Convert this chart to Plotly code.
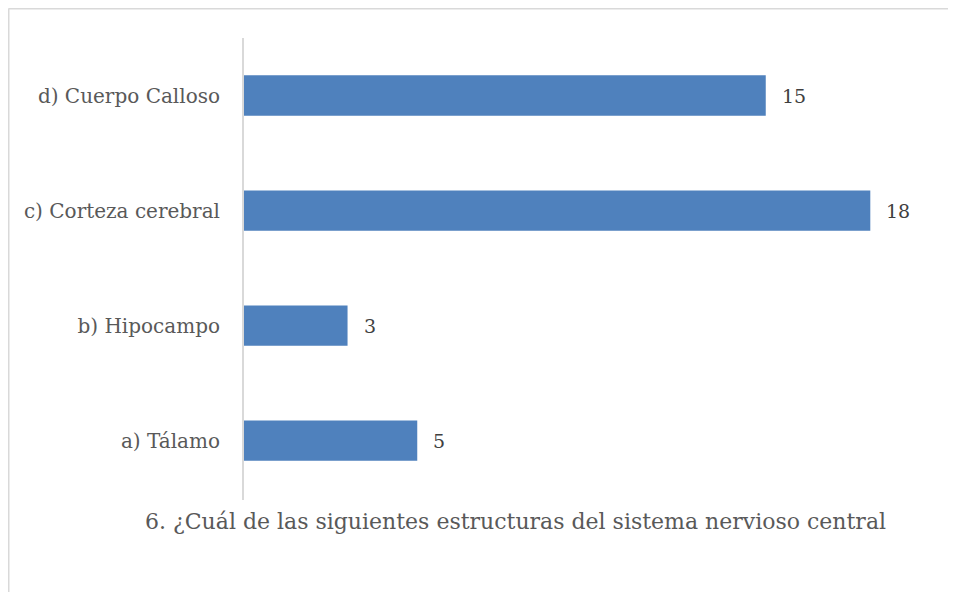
import plotly.graph_objects as go

categories = ["a) Tálamo", "b) Hipocampo", "c) Corteza cerebral", "d) Cuerpo Calloso"]
values = [5, 3, 18, 15]
title_text = "6. ¿Cuál de las siguientes estructuras del sistema nervioso central"

W, H = 956, 592
OFF = 8  # page offset of the figure in the browser
L, R, T, B = 243 - OFF, 16 + OFF, 38 - OFF, 94 + OFF
pw, ph = W - L - R, H - T - B

def px_x(px):
    return (px - OFF - L) / pw

def px_y(py):
    return (H - B - (py - OFF)) / ph

FONT = "DejaVu Serif"
TXT = "#595959"

fig = go.Figure(go.Bar(
    x=values, y=categories, orientation="h",
    marker=dict(color="#4F81BD", line=dict(width=0)),
    width=0.35, hoverinfo="skip",
))

for c, v in zip(categories, values):
    fig.add_annotation(x=v, y=c, text=str(v), showarrow=False, xanchor="left",
                       xshift=14, font=dict(family=FONT, size=19, color="#404040"))

fig.add_annotation(xref="paper", yref="paper", x=px_x(515), y=px_y(521),
                   text=title_text, showarrow=False, xanchor="center", yanchor="middle",
                   font=dict(family=FONT, size=22, color=TXT))

# outer chart border (top and left visible)
fig.add_shape(type="line", xref="paper", yref="paper", x0=px_x(8.5), x1=px_x(970),
              y0=px_y(8.5), y1=px_y(8.5), line=dict(color="#d9d9d9", width=2))
fig.add_shape(type="line", xref="paper", yref="paper", x0=px_x(8.5), x1=px_x(8.5),
              y0=px_y(8.5), y1=px_y(610), line=dict(color="#d9d9d9", width=2))
# vertical category axis line
fig.add_shape(type="line", xref="paper", yref="paper", x0=0, x1=0,
              y0=px_y(38), y1=px_y(500), line=dict(color="#d9d9d9", width=2))

fig.update_layout(
    width=W, height=H,
    margin=dict(l=L, r=R, t=T, b=B, autoexpand=False),
    paper_bgcolor="white", plot_bgcolor="white",
    showlegend=False,
    xaxis=dict(range=[0, 20], visible=False, showgrid=False, zeroline=False),
    yaxis=dict(categoryorder="array", categoryarray=categories, showgrid=False,
               zeroline=False, showline=False, ticks="", ticklabelstandoff=22,
               tickfont=dict(family=FONT, size=20, color=TXT)),
)

fig.write_html("out.html")
